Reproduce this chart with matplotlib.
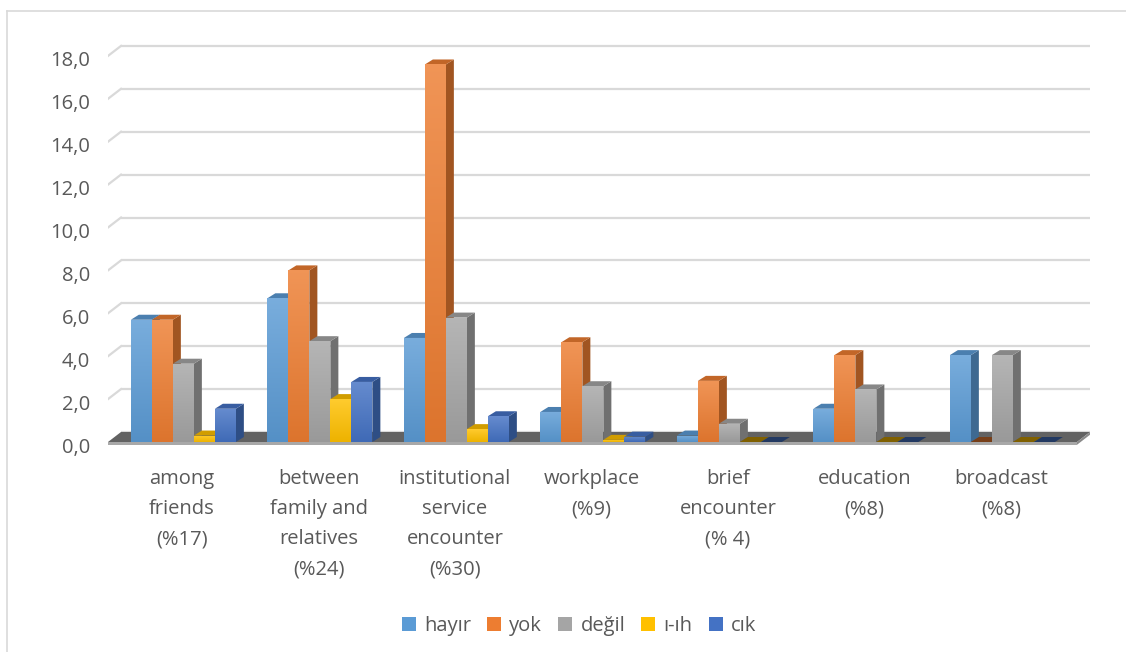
import numpy as np
import matplotlib
matplotlib.use('Agg')
import matplotlib.pyplot as plt
from matplotlib.patches import Polygon, Patch
from matplotlib.lines import Line2D
from matplotlib.colors import to_rgb
from matplotlib.transforms import ScaledTranslation

# ---- data ----
categories = ["among\nfriends\n(%17)", "between\nfamily and\nrelatives\n(%24)",
              "institutional\nservice\nencounter\n(%30)", "workplace\n(%9)",
              "brief\nencounter\n(% 4)", "education\n(%8)", "broadcast\n(%8)"]
series_names = ["hayır", "yok", "değil", "ı-ıh", "cık"]
hayir = [5.7, 6.7, 4.85, 1.4, 0.3, 1.55, 4.05]
yok = [5.7, 8.0, 17.6, 4.65, 2.85, 4.05, 0.0]
degil = [3.65, 4.7, 5.8, 2.6, 0.85, 2.45, 4.05]
iih = [0.3, 2.0, 0.6, 0.1, 0.0, 0.0, 0.0]
cik = [1.55, 2.8, 1.2, 0.25, 0.0, 0.0, 0.0]
yticks = [0, 2, 4, 6, 8, 10, 12, 14, 16, 18]
ytick_labels = ["0,0", "2,0", "4,0", "6,0", "8,0", "10,0", "12,0", "14,0", "16,0", "18,0"]

series = [hayir, yok, degil, iih, cik]
colors = ["#5B9BD5", "#ED7D31", "#A5A5A5", "#FFC000", "#4472C4"]

plt.rcParams['font.family'] = ['Open Sans', 'DejaVu Sans']
TXT = "#595959"

W, H = 1126, 652
fig = plt.figure(figsize=(W / 100, H / 100), dpi=100)

# pixel geometry
L, R = 108, 1090
Y0, PXU = 442, 21.45
B, T = 447, 40
XC0, PXC = 182, 136.5

ax = fig.add_axes([L / W, 1 - B / H, (R - L) / W, (B - T) / H])
xl, xr = (L - XC0) / PXC, (R - XC0) / PXC
yb, yt = (Y0 - B) / PXU, (Y0 - T) / PXU

DX, DY = 13 / PXC, 10 / PXU        # floor / wall depth
bdx, bdy = 8 / PXC, 5 / PXU        # bar depth
bw = 21 / PXC                      # bar width


def shade(c, f):
    r, g, b = to_rgb(c)
    return (r * f, g * f, b * f)


def lighten(c, f):
    r, g, b = to_rgb(c)
    return (r + (1 - r) * f, g + (1 - g) * f, b + (1 - b) * f)


# gridlines (back wall) and left slanted ticks
for v in yticks:
    ax.plot([xl + DX, xr], [v + DY, v + DY], color="#d9d9d9", lw=1.6, zorder=1,
            solid_capstyle='butt')
    if v > 0:
        ax.plot([xl, xl + DX], [v, v + DY], color="#d9d9d9", lw=1.6, zorder=1)

# floor
xrf = xr - DX
floor = Polygon([(xl, 0), (xrf, 0), (xr, DY), (xl + DX, DY)], closed=True,
                facecolor="#626262", edgecolor="none", zorder=2)
ax.add_patch(floor)
floor_front = Polygon([(xl, -0.13), (xrf, -0.13), (xrf, 0), (xl, 0)], closed=True,
                      facecolor="#a8a8a8", edgecolor="none", zorder=2)
ax.add_patch(floor_front)
floor_side = Polygon([(xrf, -0.13), (xr, DY - 0.13), (xr, DY), (xrf, 0)], closed=True,
                     facecolor="#8a8a8a", edgecolor="none", zorder=2)
ax.add_patch(floor_side)

x = np.arange(len(categories))
z = 3
for i in range(len(categories)):
    for k, (vals, col) in enumerate(zip(series, colors)):
        h = vals[i]
        x0 = x[i] + (k - 2) * bw - bw / 2 + 0.01
        # side face
        side = Polygon([(x0 + bw, 0), (x0 + bw + bdx, bdy), (x0 + bw + bdx, h + bdy), (x0 + bw, h)],
                       closed=True, facecolor=shade(col, 0.68), edgecolor="none", zorder=z)
        ax.add_patch(side)
        # top face
        topc = shade(col, 0.82) if h > 0.05 else shade(col, 0.5)
        top = Polygon([(x0, h), (x0 + bw, h), (x0 + bw + bdx, h + bdy), (x0 + bdx, h + bdy)],
                      closed=True, facecolor=topc, edgecolor="none", zorder=z + 0.1)
        ax.add_patch(top)
        # front face with gradient
        if h > 0:
            bars = ax.bar(x0, h, width=bw, align='edge', color=col, edgecolor="none", zorder=z + 0.2)
            rect = bars[0]
            c1 = np.array(lighten(col, 0.18))
            c2 = np.array(shade(col, 0.93))
            grad = np.linspace(0, 1, 64)[:, None, None]
            img = c1[None, None, :] * (1 - grad) + c2[None, None, :] * grad
            im = ax.imshow(img, extent=(x0, x0 + bw, 0, h), origin='upper', aspect='auto',
                           zorder=z + 0.3, interpolation='bilinear')
            im.set_clip_path(rect)
        z += 1

ax.set_xlim(xl, xr)
ax.set_ylim(yb, yt)
ax.set_facecolor('none')
for s in ax.spines.values():
    s.set_visible(False)
ax.set_xticks([])
ax.set_yticks(yticks)
ax.set_yticklabels(ytick_labels)
ax.tick_params(axis='y', length=0, pad=13, labelsize=14.5, labelcolor=TXT)
off = ScaledTranslation(0, -3 / 100, fig.dpi_scale_trans)
for lbl in ax.get_yticklabels():
    lbl.set_transform(lbl.get_transform() + off)

# category labels
for i, lab in enumerate(categories):
    ax.text(x[i], (Y0 - 469) / PXU, lab, ha='center', va='top', fontsize=14.5,
            color=TXT, linespacing=1.68, clip_on=False)

# legend
handles = [Patch(facecolor=c, edgecolor='none') for c in colors]
fig.legend(handles, series_names, loc='center', bbox_to_anchor=(579 / W, 1 - 626 / H),
           ncol=5, frameon=False, fontsize=14.5, handlelength=0.7, handleheight=0.7,
           handletextpad=0.4, columnspacing=0.8, labelcolor=TXT)

# chart border (top and left visible)
fig.add_artist(Line2D([7 / W, 1], [1 - 11 / H, 1 - 11 / H], transform=fig.transFigure,
                      color="#d9d9d9", lw=1.2))
fig.add_artist(Line2D([7 / W, 7 / W], [0, 1 - 11 / H], transform=fig.transFigure,
                      color="#d9d9d9", lw=1.2))

fig.savefig("out.png", dpi=100, facecolor="white")
